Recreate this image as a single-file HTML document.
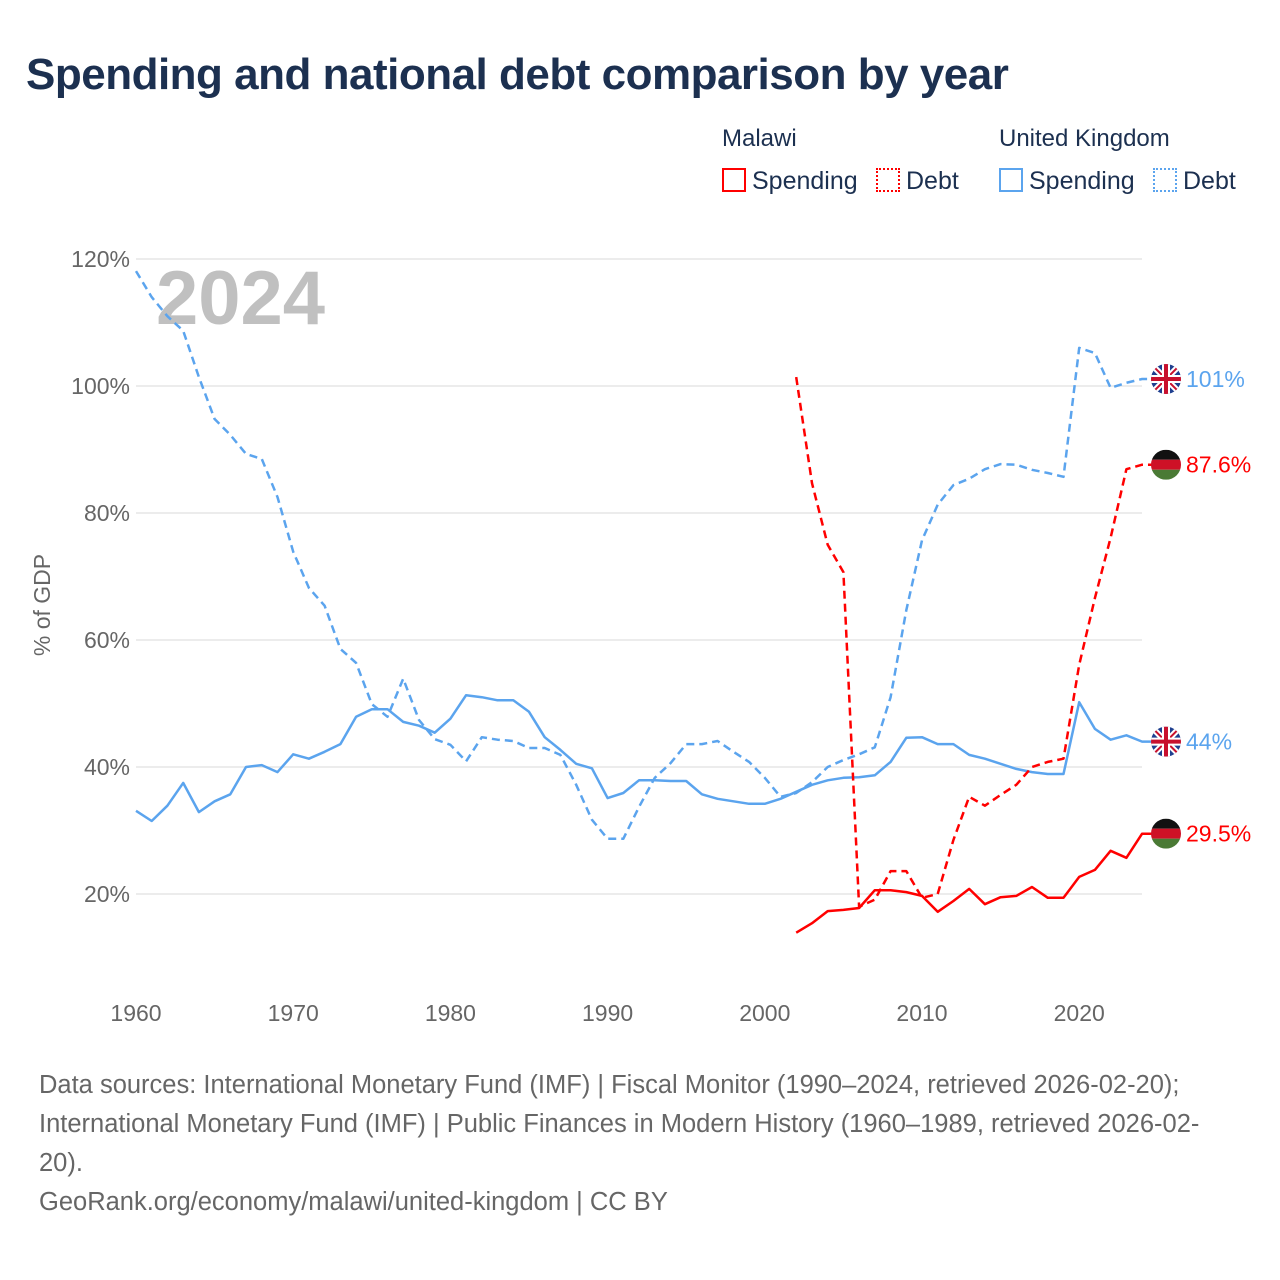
<!DOCTYPE html>
<html><head><meta charset="utf-8"><style>
body{margin:0;background:#fff;font-family:"Liberation Sans",sans-serif;}
#wrap{position:relative;width:1280px;height:1280px;overflow:hidden;}
.t{position:absolute;white-space:nowrap;}
</style></head><body>
<div id="wrap">
<div class="t" style="left:26px;top:50px;font-size:44px;font-weight:bold;color:#1c3050;letter-spacing:-0.5px">Spending and national debt comparison by year</div>
<div class="t" style="left:722px;top:125px;font-size:24px;color:#1c3050">Malawi</div>
<div class="t" style="left:999px;top:125px;font-size:24px;color:#1c3050">United Kingdom</div>
<div class="t" style="left:722px;top:167px;font-size:25px;color:#1c3050"><span style="display:inline-block;width:24px;height:24px;border:2px solid #f00;box-sizing:border-box;vertical-align:-3px;margin-right:6px"></span>Spending</div>
<div class="t" style="left:876px;top:167px;font-size:25px;color:#1c3050"><span style="display:inline-block;width:24px;height:24px;border:2px dotted #f00;box-sizing:border-box;vertical-align:-3px;margin-right:6px"></span>Debt</div>
<div class="t" style="left:999px;top:167px;font-size:25px;color:#1c3050"><span style="display:inline-block;width:24px;height:24px;border:2px solid #5ba4ee;box-sizing:border-box;vertical-align:-3px;margin-right:6px"></span>Spending</div>
<div class="t" style="left:1153px;top:167px;font-size:25px;color:#1c3050"><span style="display:inline-block;width:24px;height:24px;border:2px dotted #5ba4ee;box-sizing:border-box;vertical-align:-3px;margin-right:6px"></span>Debt</div>
<svg id="chart" width="1280" height="1280" style="position:absolute;left:0;top:0"></svg>
<div class="t" style="left:39px;top:1066px;font-size:25.5px;line-height:39px;color:#666">Data sources: International Monetary Fund (IMF) | Fiscal Monitor (1990–2024, retrieved 2026-02-20);<br>International Monetary Fund (IMF) | Public Finances in Modern History (1960–1989, retrieved 2026-02-<br>20).<br>GeoRank.org/economy/malawi/united-kingdom | CC BY</div>
</div>
<script>
const yTicks=[20,40,60,80,100,120];
const xTicks=[1960,1970,1980,1990,2000,2010,2020];
const ukYears=[];for(let y=1960;y<=2024;y++)ukYears.push(y);
const mwYears=[];for(let y=2002;y<=2024;y++)mwYears.push(y);
const ukSpending=[33.1,31.5,33.9,37.5,32.9,34.6,35.7,40.0,40.3,39.2,42.0,41.3,42.4,43.6,47.9,49.1,49.1,47.1,46.5,45.4,47.6,51.3,51.0,50.5,50.5,48.7,44.7,42.7,40.5,39.8,35.1,35.9,37.9,37.9,37.8,37.8,35.7,35.0,34.6,34.2,34.2,35.0,36.1,37.2,37.9,38.3,38.4,38.7,40.8,44.6,44.7,43.6,43.6,41.9,41.3,40.5,39.7,39.2,38.9,38.9,50.2,46.0,44.3,45.0,44.0];
const ukDebt=[118.1,114,111,108.7,101.4,94.8,92.3,89.3,88.5,82.5,73.9,68.2,65.4,58.6,56.4,49.9,47.9,53.9,47.4,44.4,43.5,40.9,44.7,44.3,44.1,43.0,43.0,41.9,37.2,31.7,28.7,28.7,33.7,38.3,40.6,43.6,43.6,44.1,42.4,40.8,38.3,35.3,35.9,37.6,40.0,41.1,42.0,43.1,51.0,64.7,75.7,81.3,84.4,85.4,86.9,87.7,87.6,86.8,86.3,85.7,106,105.2,99.7,100.5,101.1];
const mwSpending=[13.9,15.4,17.3,17.5,17.8,20.6,20.6,20.3,19.7,17.2,18.9,20.8,18.4,19.5,19.7,21.1,19.4,19.4,22.7,23.8,26.8,25.7,29.5];
const mwDebt=[101.4,84.7,75.0,70.7,18.0,19.1,23.6,23.6,19.4,20.0,28.5,35.3,33.9,35.6,37.2,40.0,40.8,41.3,56.1,66.6,76.1,86.9,87.6];
const endLabels=["101%","87.6%","44%","29.5%"];
const NS="http://www.w3.org/2000/svg";
const svg=document.getElementById('chart');
const X=v=>136+(v-1960)*15.72;
const Y=v=>1021-v*6.35;
function mk(tag,attrs,parent){const e=document.createElementNS(NS,tag);for(const k in attrs)e.setAttribute(k,attrs[k]);(parent||svg).appendChild(e);return e;}
yTicks.forEach(t=>{
 const g=mk('line',{x1:136,x2:1142,y1:Y(t),y2:Y(t),stroke:'#e6e6e6','stroke-width':1.5});
 
 
 const tx=mk('text',{x:130,y:Y(t)+8,'text-anchor':'end','font-size':23,fill:'#666','font-family':'Liberation Sans'});
 tx.textContent=t+'%';
 
 
});
xTicks.forEach(t=>{
 const tx=mk('text',{x:X(t),y:1021,'text-anchor':'middle','font-size':23,fill:'#666','font-family':'Liberation Sans'});
 tx.textContent=t;
 
 
});
const yt=mk('text',{x:0,y:0,transform:'translate(50,605) rotate(-90)','text-anchor':'middle','font-size':23,fill:'#666','font-family':'Liberation Sans'});
yt.textContent='% of GDP';


const yr=mk('text',{x:156,y:324,'font-size':76,'font-weight':'bold',fill:'#c0c0c0','font-family':'Liberation Sans'});
yr.textContent='2024';


function line(xs,vs,color,dash,name){
 let d=vs.map((v,i)=>(i?'L':'M')+X(xs[i]).toFixed(1)+' '+Y(v).toFixed(1)).join(' ');
 d+=' L1152 '+Y(vs[vs.length-1]).toFixed(1);
 const p=mk('path',{d:d,fill:'none',stroke:color,'stroke-width':2.5,'stroke-dasharray':dash||'none','stroke-linejoin':'round'});
 
 
}
line(ukYears,ukSpending,'#5ba4ee',null,'uk-spending-line');
line(ukYears,ukDebt,'#5ba4ee','8,5','uk-debt-line');
line(mwYears,mwSpending,'#f00',null,'malawi-spending-line');
line(mwYears,mwDebt,'#f00','8,5','malawi-debt-line');
function flag(v,country){
 const cx=1166,cy=Y(v);
 const g=mk('g',{});
 
 
 const id='c'+Math.round(cy);
 const cp=mk('clipPath',{id:id},g);mk('circle',{cx:cx,cy:cy,r:15},cp);
 const inner=mk('g',{'clip-path':'url(#'+id+')'},g);
 if(country==='uk'){
  mk('rect',{x:cx-15,y:cy-15,width:30,height:30,fill:'#1f3f8f'},inner);
  mk('path',{d:`M${cx-15} ${cy-15}L${cx+15} ${cy+15}M${cx+15} ${cy-15}L${cx-15} ${cy+15}`,stroke:'#fff','stroke-width':6},inner);
  mk('path',{d:`M${cx-15} ${cy-15}L${cx+15} ${cy+15}M${cx+15} ${cy-15}L${cx-15} ${cy+15}`,stroke:'#c8102e','stroke-width':2},inner);
  mk('path',{d:`M${cx} ${cy-15}V${cy+15}M${cx-15} ${cy}H${cx+15}`,stroke:'#fff','stroke-width':8},inner);
  mk('path',{d:`M${cx} ${cy-15}V${cy+15}M${cx-15} ${cy}H${cx+15}`,stroke:'#c8102e','stroke-width':4},inner);
 }else{
  mk('rect',{x:cx-15,y:cy-15,width:30,height:10,fill:'#111'},inner);
  mk('rect',{x:cx-15,y:cy-5,width:30,height:10,fill:'#ce1126'},inner);
  mk('rect',{x:cx-15,y:cy+5,width:30,height:10,fill:'#4a7a35'},inner);
 }
}
const endVals=[ukDebt[ukDebt.length-1],mwDebt[mwDebt.length-1],ukSpending[ukSpending.length-1],mwSpending[mwSpending.length-1]];
const endCountry=['uk','malawi','uk','malawi'];
endVals.forEach((v,i)=>{
 flag(v,endCountry[i]);
 const tx=mk('text',{x:1186,y:Y(v)+8,'font-size':23,fill:endCountry[i]==='uk'?'#5ba4ee':'#f00','font-family':'Liberation Sans'});
 tx.textContent=endLabels[i];
 
 
});
</script>
</body></html>
